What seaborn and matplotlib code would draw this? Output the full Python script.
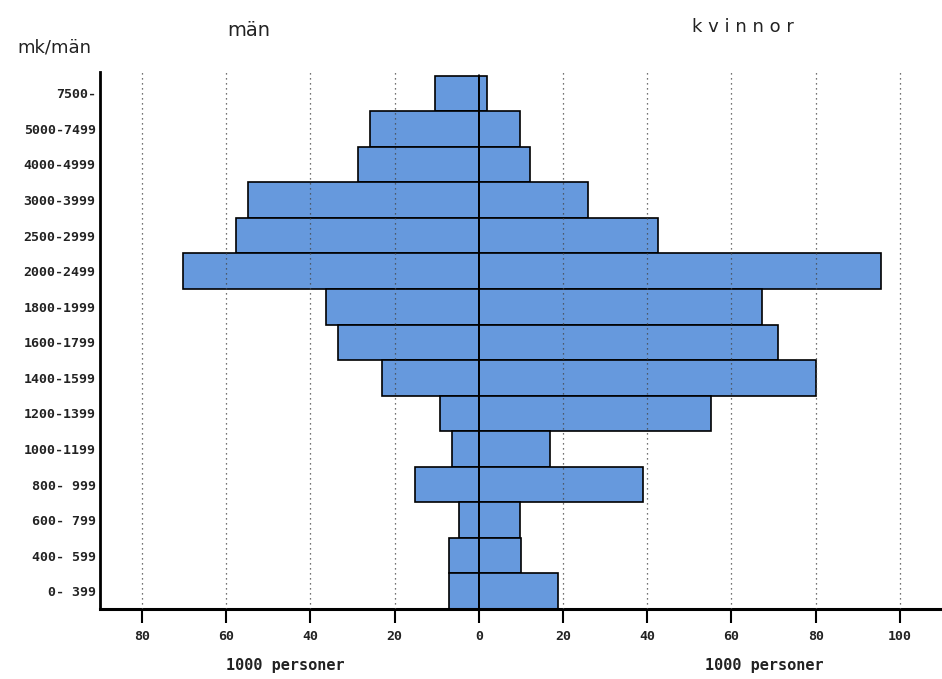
import pandas as pd
import numpy as np
import matplotlib
matplotlib.use("Agg")
import matplotlib.pyplot as plt
import seaborn as sns
from matplotlib.ticker import FuncFormatter

# income classes (mk/mån), top to bottom as in the chart
klasser = ["7500-", "5000-7499", "4000-4999", "3000-3999", "2500-2999",
           "2000-2499", "1800-1999", "1600-1799", "1400-1599", "1200-1399",
           "1000-1199", " 800- 999", " 600- 799", " 400- 599", "   0- 399"]

# 1000 personer
man = [10.4, 25.8, 28.6, 54.9, 57.7, 70.3, 36.4, 33.4, 23.0, 9.2,
       6.4, 15.1, 4.7, 7.1, 7.1]
kvinnor = [1.9, 9.7, 12.1, 26.0, 42.6, 95.6, 67.2, 71.0, 80.0, 55.1,
           16.8, 39.1, 9.7, 9.9, 18.7]

xticks = [-80, -60, -40, -20, 0, 20, 40, 60, 80, 100]

df = pd.DataFrame({"klass": klasser, "man": [-v for v in man], "kvinnor": kvinnor})

sns.set_style("white")
plt.rcParams["font.family"] = ["DejaVu Sans Mono", "DejaVu Sans"]

blue = "#6699dd"

fig = plt.figure(figsize=(9.42, 6.79), dpi=100)
ax = fig.add_axes([0.106, 0.103, 0.894, 0.791])

sns.barplot(data=df, y="klass", x="man", order=klasser, orient="h",
            color=blue, saturation=1, width=1.0, edgecolor="black",
            linewidth=1.2, ax=ax)
sns.barplot(data=df, y="klass", x="kvinnor", order=klasser, orient="h",
            color=blue, saturation=1, width=1.0, edgecolor="black",
            linewidth=1.2, ax=ax)

ax.set_xlim(-90, 110)
ax.set_ylim(14.5, -0.6)
ax.axvline(0, color="black", lw=1.2, ymax=0.995, zorder=5)

# dotted grid, drawn over the bars like the original
for t in xticks:
    if t != 0:
        ax.axvline(t, color="#444444", lw=0.9, ls=(0, (1, 3)), zorder=4)

ax.set_xticks(xticks)
ax.xaxis.set_major_formatter(FuncFormatter(lambda v, p: f"{abs(int(v))}"))
ax.tick_params(axis="x", length=10, width=1.5, direction="out",
               labelsize=9.5, pad=5, bottom=True, color="black")
ax.tick_params(axis="y", length=0, labelsize=9.5, pad=3)
for lab in ax.get_yticklabels() + ax.get_xticklabels():
    lab.set_fontweight("bold")
    lab.set_color("#222222")

ax.set_xlabel("")
ax.set_ylabel("")
sns.despine(ax=ax, top=True, right=True)
ax.spines["left"].set_linewidth(2)
ax.spines["bottom"].set_linewidth(2.2)
ax.spines["left"].set_color("black")
ax.spines["bottom"].set_color("black")

fig.text(0.264, 0.955, "män", fontsize=14, ha="center", va="center",
         family="DejaVu Sans", color="#222222")
fig.text(0.789, 0.96, "k v i n n o r", fontsize=13, ha="center", va="center",
         family="DejaVu Sans", color="#222222")
fig.text(0.058, 0.93, "mk/män", fontsize=13, ha="center", va="center",
         family="DejaVu Sans", color="#222222")
fig.text(0.303, 0.02, "1000 personer", fontsize=11, ha="center", va="center",
         fontweight="bold", color="#222222")
fig.text(0.811, 0.02, "1000 personer", fontsize=11, ha="center", va="center",
         fontweight="bold", color="#222222")

fig.savefig("out.png", dpi=100)
